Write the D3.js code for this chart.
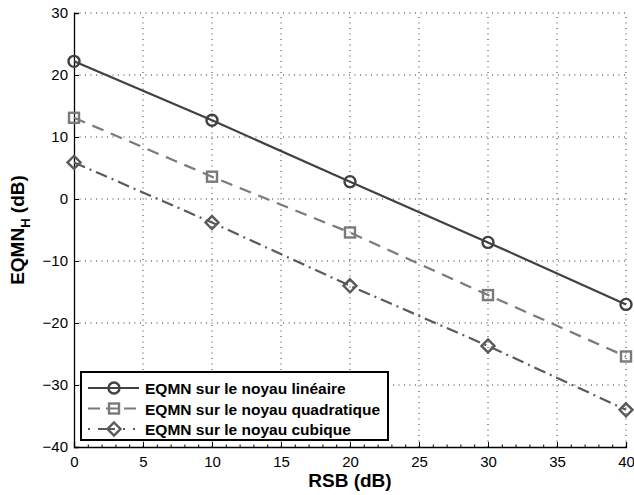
<!DOCTYPE html>
<html>
<head>
<meta charset="utf-8">
<script src="https://cdn.jsdelivr.net/npm/d3@7"></script>
<style>
  body { margin: 0; background: #fff; }
  svg { font-family: "Liberation Sans", Arial, sans-serif; }
</style>
</head>
<body>
<div id="chart"></div>
<script>
// data
const rsb = [0, 10, 20, 30, 40]
const lineaire = [22.2, 12.7, 2.8, -7.0, -17.0]
const quadratique = [13.1, 3.6, -5.4, -15.5, -25.4]
const cubique = [5.9, -3.8, -14.0, -23.7, -34.0]
const xTicks = [0, 5, 10, 15, 20, 25, 30, 35, 40]
const yTicks = [-40, -30, -20, -10, 0, 10, 20, 30]
const seriesNames = ["EQMN sur le noyau linéaire", "EQMN sur le noyau quadratique", "EQMN sur le noyau cubique"]

const width = 634, height = 495
const margin = {left: 74, right: 8, top: 13, bottom: 48}

const svg = d3.select("#chart").append("svg")
    .attr("width", width)
    .attr("height", height)

const x = d3.scaleLinear().domain([0, 40]).range([margin.left, width - margin.right])
const y = d3.scaleLinear().domain([-40, 30]).range([height - margin.bottom, margin.top])

// grid (dotted)
const grid = svg.append("g").attr("stroke", "#333").attr("stroke-width", 1)
    .attr("stroke-dasharray", "1,4.5")
xTicks.slice(1).forEach(t => {
    grid.append("line").attr("x1", x(t)).attr("x2", x(t))
        .attr("y1", y(-40)).attr("y2", y(30))
})
yTicks.slice(1).forEach(t => {
    grid.append("line").attr("x1", x(0)).attr("x2", x(40))
        .attr("y1", y(t)).attr("y2", y(t))
})

// axes
svg.append("g")
    .attr("transform", "translate(0," + y(-40) + ")")
    .call(d3.axisBottom(x).tickValues(xTicks).tickSize(-5).tickPadding(9))
const xMinor = svg.append("g")
    .attr("transform", "translate(0," + y(-40) + ")")
    .call(d3.axisBottom(x).tickValues(d3.range(0, 40.01, 1)).tickSize(-2.5).tickFormat(""))
xMinor.select(".domain").remove()

svg.append("g")
    .attr("transform", "translate(" + x(0) + ",0)")
    .call(d3.axisLeft(y).tickValues(yTicks).tickSize(-5).tickPadding(6)
        .tickFormat(d => d < 0 ? "\u2212" + Math.abs(d) : d))

svg.selectAll(".domain").attr("stroke", "#000").attr("stroke-width", 1.3)
svg.selectAll(".tick line").attr("stroke", "#000")
svg.selectAll(".tick text").attr("font-size", 15).attr("fill", "#000")
    .attr("font-family", "Liberation Sans, Arial, sans-serif")

// labels
svg.append("text")
    .attr("x", (x(0) + x(40)) / 2).attr("y", 487)
    .attr("text-anchor", "middle").attr("font-weight", "bold").attr("font-size", 19)
    .text("RSB (dB)")

const yl = svg.append("text")
    .attr("transform", "translate(24," + ((y(-40) + y(30)) / 2) + ") rotate(-90)")
    .attr("text-anchor", "middle").attr("font-weight", "bold").attr("font-size", 19)
yl.append("tspan").text("EQMN")
yl.append("tspan").attr("font-size", 13).attr("dy", 6).text("H")
yl.append("tspan").attr("dy", -6).text(" (dB)")

// series
const series = [
    {values: lineaire, color: "#414141", dash: null, marker: "circle"},
    {values: quadratique, color: "#7a7a7a", dash: "12,8", marker: "square"},
    {values: cubique, color: "#5a5a5a", dash: "12,5,2,5", marker: "diamond"}
]

const line = d3.line().x(d => x(d[0])).y(d => y(d[1]))

function drawMarker(g, type, cx, cy, color) {
    if (type === "circle") {
        g.append("circle").attr("cx", cx).attr("cy", cy).attr("r", 5.5)
            .attr("fill", "none").attr("stroke", color).attr("stroke-width", 2.4)
    } else if (type === "square") {
        g.append("rect").attr("x", cx - 5).attr("y", cy - 5).attr("width", 10).attr("height", 10)
            .attr("fill", "none").attr("stroke", color).attr("stroke-width", 2.4)
    } else {
        g.append("path")
            .attr("d", "M" + cx + "," + (cy - 6.5) + "L" + (cx + 6.5) + "," + cy + "L" + cx + "," + (cy + 6.5) + "L" + (cx - 6.5) + "," + cy + "Z")
            .attr("fill", "none").attr("stroke", color).attr("stroke-width", 2.4)
    }
}

series.forEach(s => {
    const pts = rsb.map((r, i) => [r, s.values[i]])
    svg.append("path").datum(pts)
        .attr("d", line)
        .attr("fill", "none")
        .attr("stroke", s.color)
        .attr("stroke-width", 2.2)
        .attr("stroke-dasharray", s.dash)
    const g = svg.append("g")
    pts.forEach(p => drawMarker(g, s.marker, x(p[0]), y(p[1]), s.color))
})

// legend
const lg = svg.append("g")
lg.append("rect").attr("x", 81).attr("y", 372).attr("width", 307).attr("height", 68)
    .attr("fill", "#fff").attr("stroke", "#000").attr("stroke-width", 2)

seriesNames.forEach((name, i) => {
    const s = series[i]
    const ly = 388 + i * 20.5
    lg.append("line").attr("x1", 88).attr("x2", 139).attr("y1", ly).attr("y2", ly)
        .attr("stroke", s.color).attr("stroke-width", 2.2)
        .attr("stroke-dasharray", s.dash ? (i === 1 ? "12,6" : "2,8,17,8,2,8") : null)
    drawMarker(lg, s.marker, 114, ly, s.color)
    lg.append("text").attr("x", 145).attr("y", ly + 6)
        .attr("font-weight", "bold").attr("font-size", 15.5)
        .text(name)
})
</script>
</body>
</html>
